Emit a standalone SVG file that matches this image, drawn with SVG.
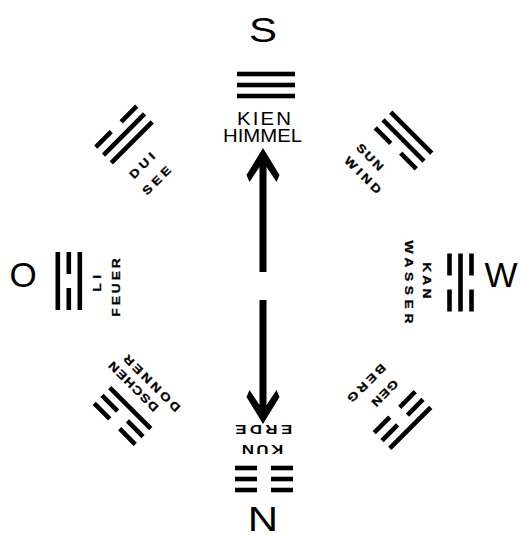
<svg xmlns="http://www.w3.org/2000/svg" xmlns:xlink="http://www.w3.org/1999/xlink" width="520" height="535" viewBox="0 0 520 535">
<style>
.big{font-family:"Liberation Sans",Arial,sans-serif;font-size:35px;fill:#000;text-anchor:middle}
.lbl{font-family:"Liberation Sans",Arial,sans-serif;font-size:18.5px;fill:#000;text-anchor:middle}
.mid{font-family:"Liberation Sans",Arial,sans-serif;font-size:13px;font-weight:bold;fill:#000;text-anchor:middle}
.sm{font-family:"Liberation Sans",Arial,sans-serif;font-size:11.5px;font-weight:bold;fill:#000;stroke:#000;stroke-width:0.3;text-anchor:middle}
</style>
<defs>
<g id="yang"><rect x="-29" y="-2.3" width="58" height="4.6" fill="#000"/></g>
<g id="yin"><rect x="-29" y="-2.3" width="22" height="4.6" fill="#000"/><rect x="7" y="-2.3" width="22" height="4.6" fill="#000"/></g>
</defs>
<rect width="520" height="535" fill="#fff"/>
<g id="directions">
<text class="big" transform="translate(263,42) scale(1.2,1)">S</text>
<text class="big" transform="translate(263,531) scale(1.2,1)">N</text>
<text class="big" x="23" y="287">O</text>
<text class="big" x="501" y="287">W</text>
</g>
<g id="kien">
<g transform="translate(266,85)"><use xlink:href="#yang" y="-11"/><use xlink:href="#yang" y="0"/><use xlink:href="#yang" y="11"/></g>
<text class="lbl" transform="translate(264,125) scale(1.1,1)" textLength="49">KIEN</text>
<text class="lbl" transform="translate(262.5,141.7) scale(1.1,1)">HIMMEL</text>
</g>
<g id="sun">
<g transform="translate(403.5,140.5) rotate(45)"><use xlink:href="#yang" y="-11"/><use xlink:href="#yang" y="0"/><use xlink:href="#yin" y="11"/></g>
<text class="sm" transform="translate(370,157) rotate(45) scale(1.2,1)" y="4.1" textLength="27.6">SUN</text>
<text class="sm" transform="translate(363,175) rotate(45) scale(1.2,1)" y="4.1" textLength="39">WIND</text>
</g>
<g id="kan">
<g transform="translate(460.5,282.5) rotate(90)"><use xlink:href="#yin" y="-11"/><use xlink:href="#yang" y="0"/><use xlink:href="#yin" y="11"/></g>
<text class="sm" transform="translate(426.7,280.3) rotate(90) scale(1.2,1)" y="4.1" textLength="30.3">KAN</text>
<text class="sm" transform="translate(408.7,282) rotate(90) scale(1.2,1)" y="4.1" textLength="69">WASSER</text>
</g>
<g id="gen">
<g transform="translate(402.5,420) rotate(135)"><use xlink:href="#yang" y="-11"/><use xlink:href="#yin" y="0"/><use xlink:href="#yin" y="11"/></g>
<text class="sm" transform="translate(385,393.3) rotate(135) scale(1.2,1)" y="4.1" textLength="27">GEN</text>
<text class="sm" transform="translate(366.7,383.3) rotate(135) scale(1.2,1)" y="4.1" textLength="40.8">BERG</text>
</g>
<g id="kun">
<g transform="translate(264,479) rotate(180)"><use xlink:href="#yin" y="-11"/><use xlink:href="#yin" y="0"/><use xlink:href="#yin" y="11"/></g>
<text class="mid" transform="translate(262.5,450) rotate(180) scale(1.3,1)" y="4.65" textLength="32">KUN</text>
<text class="mid" transform="translate(263.7,430) rotate(180) scale(1.3,1)" y="4.65" textLength="43.8">ERDE</text>
</g>
<g id="dschen">
<g transform="translate(122.5,416) rotate(225)"><use xlink:href="#yin" y="-11"/><use xlink:href="#yin" y="0"/><use xlink:href="#yang" y="11"/></g>
<text class="sm" transform="translate(133.3,386.7) rotate(225) scale(1.2,1)" y="4.1" textLength="54.2">DSCHEN</text>
<text class="sm" transform="translate(151.7,383.3) rotate(225) scale(1.2,1)" y="4.1" textLength="62.5">DONNER</text>
</g>
<g id="li">
<g transform="translate(68.8,281) rotate(-90)"><use xlink:href="#yang" y="-11"/><use xlink:href="#yin" y="0"/><use xlink:href="#yang" y="11"/></g>
<text class="sm" transform="translate(96.7,283.3) rotate(-90) scale(1.2,1)" y="4.1" textLength="14">LI</text>
<text class="sm" transform="translate(116,287.5) rotate(-90) scale(1.2,1)" y="4.1" textLength="48.7">FEUER</text>
</g>
<g id="dui">
<g transform="translate(124,134.5) rotate(-45)"><use xlink:href="#yin" y="-11"/><use xlink:href="#yang" y="0"/><use xlink:href="#yang" y="11"/></g>
<text class="sm" transform="translate(142,165.5) rotate(-45) scale(1.2,1)" y="4.1" textLength="26">DUI</text>
<text class="sm" transform="translate(156.5,180.5) rotate(-45) scale(1.2,1)" y="4.1" textLength="29.3">SEE</text>
</g>
<g id="connectors">
<polygon points="263,148 279.5,175 276.5,182 266.5,167 266.5,272 259.5,272 259.5,167 249.5,182 246.5,175" fill="#000"/>
<polygon points="263,424 279.5,397 276.5,390 266.5,405 266.5,300 259.5,300 259.5,405 249.5,390 246.5,397" fill="#000"/>
</g>
</svg>
